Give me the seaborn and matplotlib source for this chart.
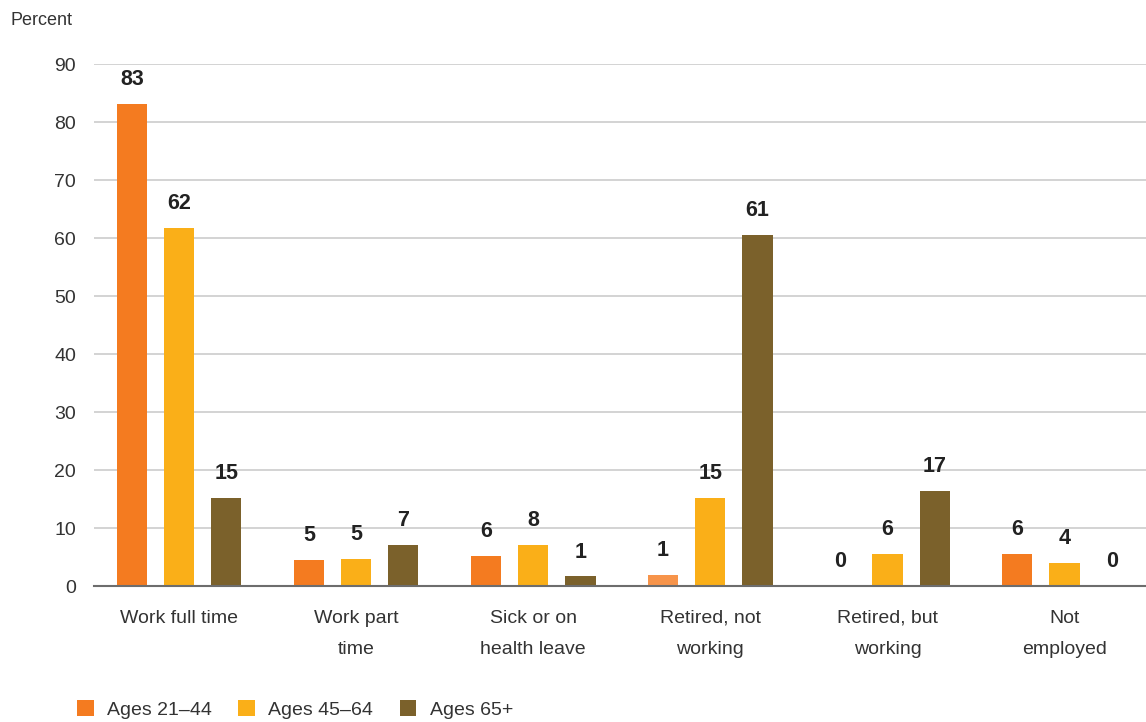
import pandas as pd
import matplotlib
matplotlib.use('Agg')
import matplotlib.pyplot as plt
import seaborn as sns
from matplotlib.patches import Patch

categorias = ['Work full time', 'Work part\ntime', 'Sick or on\nhealth leave',
              'Retired, not\nworking', 'Retired, but\nworking', 'Not\nemployed']
grupos = ['Ages 21\u201344', 'Ages 45\u201364', 'Ages 65+']

# altura das barras e rotulos publicados
valores_21_44 = [83.1, 4.5, 5.2, 1.9, 0.0, 5.5]
valores_45_64 = [61.8, 4.7, 7.2, 15.2, 5.5, 4.0]
valores_65 = [15.3, 7.2, 1.7, 60.6, 16.4, 0.0]
rotulos_21_44 = [83, 5, 6, 1, 0, 6]
rotulos_45_64 = [62, 5, 8, 15, 6, 4]
rotulos_65 = [15, 7, 1, 61, 17, 0]

cores = ['#F47B20', '#FAAF18', '#7B612B']

df = pd.DataFrame({
    'Categoria': categorias * 3,
    'Grupo': [g for g in grupos for _ in categorias],
    'Percent': valores_21_44 + valores_45_64 + valores_65,
})

sns.set_theme(style='white')
plt.rcParams['font.family'] = ['Liberation Sans', 'DejaVu Sans']
plt.rcParams['text.color'] = '#222222'

fig = plt.figure(figsize=(11.46, 7.22), dpi=100)
ax = fig.add_axes([0.082, 0.188, 0.918, 0.723])

sns.barplot(data=df, x='Categoria', y='Percent', hue='Grupo', palette=cores,
            width=0.8, gap=0.36, legend=False, ax=ax, saturation=1, linewidth=0)

# barra de 1% (aposentados, 21-44) aparece mais clara no original
ax.containers[0][3].set_facecolor('#F7944A')

for cont, rot in zip(ax.containers, [rotulos_21_44, rotulos_45_64, rotulos_65]):
    ax.bar_label(cont, labels=[str(r) for r in rot], padding=10,
                 fontsize=15.5, fontweight='bold', color='#222222')

ax.set_ylim(0, 90)
ax.set_xlim(-0.48, 5.46)
ax.set_yticks(range(0, 91, 10))
ax.yaxis.grid(True, color='#c8c8c8', linewidth=1.1)
ax.set_axisbelow(True)
for s in ['top', 'right', 'left']:
    ax.spines[s].set_visible(False)
ax.spines['bottom'].set_color('#6d6d6d')
ax.spines['bottom'].set_linewidth(1.5)
ax.tick_params(axis='y', length=0, pad=13, labelsize=14, labelcolor='#333333')
ax.tick_params(axis='x', length=0, pad=17, labelsize=14, labelcolor='#333333')
ax.set_xlabel('')
ax.set_ylabel('')
for t in ax.get_xticklabels():
    t.set_linespacing(2.1)

fig.text(0.009, 0.972, 'Percent', fontsize=13, color='#333333', va='center')

handles = [Patch(facecolor=c, edgecolor='none') for c in cores]
fig.legend(handles, grupos, loc='lower left', bbox_to_anchor=(0.052, -0.02),
           ncol=3, frameon=False, fontsize=14, handlelength=0.85, handleheight=0.85,
           handletextpad=0.7, columnspacing=1.35, labelcolor='#333333')

plt.savefig('out.png', dpi=100)
